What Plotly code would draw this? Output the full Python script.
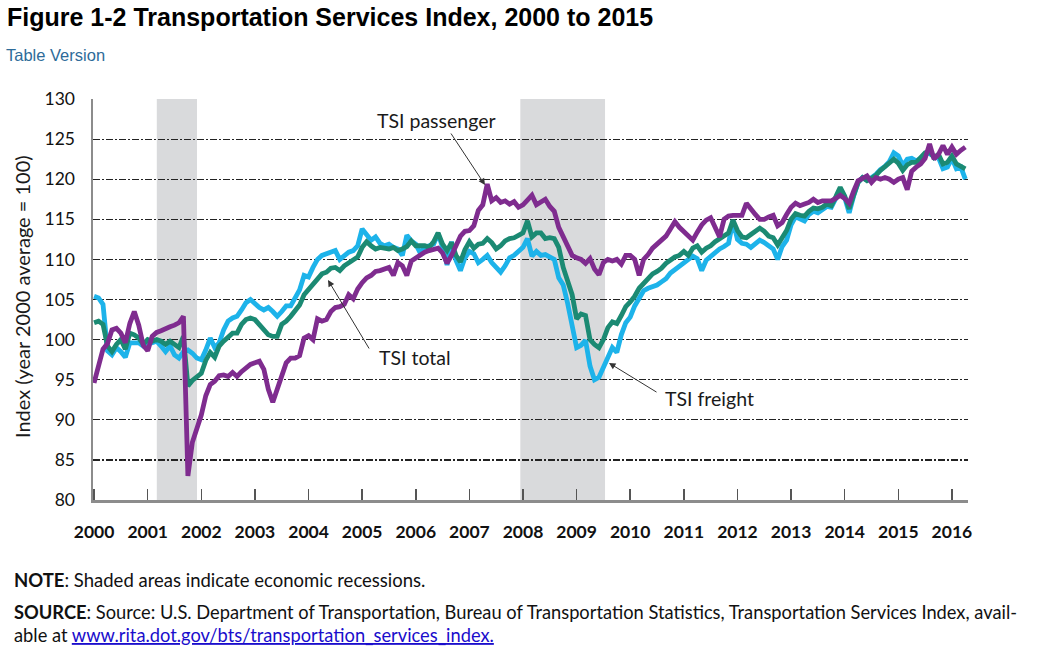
import plotly.graph_objects as go

# ---------------- data (monthly, Jan 2000 - Apr 2016) ----------------
freight = [
    105.4, 105.2, 104.4, 98.6, 98.1, 99.0, 98.5, 97.8, 99.6, 99.6, 99.6, 99.2,      # 2000
    99.8, 99.6, 99.8, 99.2, 98.5, 99.2, 98.1, 97.7, 98.5, 98.7, 98.3, 97.7,         # 2001
    97.5, 98.7, 100.2, 99.0, 99.6, 101.2, 102.3, 102.7, 102.9, 103.7, 104.6, 105.0, # 2002
    104.4, 104.0, 103.7, 104.0, 103.5, 102.9, 103.5, 104.2, 104.2, 105.2, 106.2, 108.0,  # 2003
    107.8, 109.0, 110.0, 110.5, 110.7, 110.9, 111.1, 110.0, 110.5, 110.9, 111.1, 111.7,  # 2004
    113.8, 113.0, 112.4, 112.8, 112.0, 111.7, 111.9, 111.5, 111.3, 110.5, 113.0, 112.3,  # 2005
    111.9, 110.8, 111.5, 111.7, 111.9, 113.2, 111.5, 109.3, 112.2, 109.9, 108.6, 110.2,  # 2006
    111.0, 110.7, 109.6, 110.0, 110.5, 109.6, 109.0, 108.4, 109.2, 110.2, 110.5, 111.0,  # 2007
    111.5, 112.6, 110.4, 111.0, 110.5, 110.6, 110.3, 110.0, 107.7, 106.8, 104.5, 101.5,  # 2008
    99.0, 99.3, 99.9, 96.7, 95.0, 95.3, 96.5, 97.7, 99.0, 98.4, 100.6, 102.1,       # 2009
    102.8, 104.2, 105.3, 106.1, 106.4, 106.6, 106.8, 107.2, 107.6, 108.3, 108.7, 109.2,  # 2010
    109.6, 110.0, 110.4, 110.1, 108.6, 109.9, 110.4, 110.9, 111.3, 111.6, 112.0, 114.8,  # 2011
    112.5, 112.0, 111.9, 111.5, 111.9, 112.4, 112.1, 111.7, 111.3, 110.0, 111.6, 112.4,  # 2012
    114.3, 115.3, 115.0, 114.8, 115.6, 116.0, 115.8, 116.2, 116.6, 116.5, 117.5, 118.7,  # 2013
    117.7, 115.8, 117.9, 119.6, 120.2, 119.9, 120.2, 120.6, 121.2, 121.6, 122.2, 123.3,  # 2014
    122.9, 121.7, 122.5, 122.6, 122.3, 122.6, 123.2, 123.2, 122.8, 122.7, 121.3, 121.5,  # 2015
    122.6, 121.3, 121.5, 120.0,                                                       # 2016
]

total = [
    102.1, 102.3, 101.9, 99.2, 98.5, 99.4, 100.0, 98.8, 100.8, 100.6, 100.2, 99.4,  # 2000
    100.0, 99.8, 100.0, 99.8, 99.4, 99.8, 99.4, 99.0, 100.4, 94.2, 94.9, 95.3,      # 2001
    95.8, 97.4, 98.4, 97.8, 99.2, 99.8, 100.4, 100.8, 100.8, 101.9, 102.5, 102.7,   # 2002
    102.5, 101.9, 101.2, 100.6, 100.4, 100.4, 101.9, 102.3, 102.9, 103.7, 104.3, 105.6,  # 2003
    106.3, 107.0, 107.5, 108.2, 108.4, 108.9, 109.0, 108.6, 109.2, 109.6, 110.0, 110.3,  # 2004
    111.5, 112.2, 111.7, 111.3, 111.5, 111.4, 111.3, 111.5, 111.1, 111.3, 111.6, 112.3,  # 2005
    111.7, 111.7, 111.7, 111.5, 112.2, 113.3, 111.9, 111.1, 112.1, 110.5, 109.7, 111.2,  # 2006
    112.2, 111.4, 111.9, 112.0, 112.6, 112.1, 111.3, 111.7, 112.3, 112.6, 112.7, 113.0,  # 2007
    113.3, 114.8, 112.8, 113.3, 113.3, 112.6, 112.7, 112.6, 111.5, 109.0, 107.4, 105.6,  # 2008
    102.6, 103.2, 103.0, 100.0, 99.4, 99.0, 100.0, 101.5, 102.2, 102.0, 103.0, 104.1,    # 2009
    104.7, 105.4, 106.4, 107.0, 107.6, 108.2, 108.5, 108.9, 109.5, 110.0, 110.3, 110.5,  # 2010
    111.0, 110.5, 111.4, 111.7, 110.9, 111.4, 111.7, 112.2, 112.6, 113.0, 113.3, 114.9,  # 2011
    113.6, 112.8, 112.7, 113.1, 113.5, 113.9, 113.5, 112.9, 112.7, 111.8, 112.7, 113.6,  # 2012
    115.0, 115.7, 115.5, 115.4, 116.0, 116.4, 116.3, 116.5, 116.9, 116.7, 117.8, 119.0,  # 2013
    117.9, 116.3, 118.0, 119.6, 120.2, 119.8, 120.1, 120.5, 121.1, 121.6, 122.1, 122.5,  # 2014
    122.0, 121.1, 121.8, 122.1, 122.1, 122.6, 123.3, 123.5, 122.7, 123.1, 121.9, 122.1,  # 2015
    122.9, 121.9, 121.6, 121.3,                                                       # 2016
]

passenger = [
    94.6, 97.0, 98.8, 99.5, 101.2, 101.4, 100.8, 99.6, 102.0, 103.5, 101.8, 99.3,   # 2000
    98.6, 100.4, 100.9, 101.1, 101.4, 101.6, 101.8, 102.1, 102.9, 83.0, 87.2, 89.0, # 2001
    90.6, 93.0, 94.4, 94.8, 95.5, 95.6, 95.4, 95.9, 95.4, 96.0, 96.5, 96.9,         # 2002
    97.1, 97.3, 96.3, 93.8, 92.2, 93.8, 95.5, 97.1, 97.7, 97.7, 98.0, 100.2,        # 2003
    100.5, 100.0, 102.6, 102.3, 102.5, 103.5, 104.0, 104.1, 104.4, 105.6, 105.1, 106.3,  # 2004
    107.1, 107.7, 108.0, 108.5, 108.6, 108.8, 109.0, 108.0, 109.6, 109.2, 108.0, 109.8,  # 2005
    110.2, 110.6, 110.9, 111.1, 111.3, 111.4, 110.8, 109.5, 110.5, 111.7, 112.9, 113.5,  # 2006
    113.6, 114.2, 116.1, 116.8, 119.4, 117.3, 117.7, 117.1, 117.3, 116.9, 117.2, 116.5,  # 2007
    116.8, 117.4, 118.0, 116.8, 117.1, 117.5, 116.6, 116.0, 114.0, 112.8, 111.5, 110.5,  # 2008
    110.2, 110.0, 109.5, 110.1, 108.8, 108.1, 109.6, 110.0, 109.8, 110.0, 109.4, 110.5,  # 2009
    110.5, 110.0, 108.0, 110.0, 110.6, 111.4, 111.9, 112.4, 112.9, 113.8, 114.7, 114.0,  # 2010
    113.5, 113.1, 112.4, 113.4, 114.3, 114.9, 115.2, 114.0, 112.8, 115.0, 115.4, 115.5,  # 2011
    115.5, 115.5, 117.0, 116.2, 115.6, 115.0, 115.0, 115.3, 115.5, 114.2, 114.6, 115.6,  # 2012
    116.5, 117.0, 116.7, 116.9, 117.1, 117.5, 117.1, 117.3, 117.3, 117.3, 117.6, 118.0,  # 2013
    117.6, 117.0, 118.5, 119.8, 120.1, 120.4, 119.6, 120.2, 120.0, 120.2, 120.0, 119.6,  # 2014
    120.0, 120.2, 118.7, 121.0, 121.5, 121.9, 122.6, 124.4, 122.5, 123.1, 124.2, 123.1,  # 2015
    124.0, 123.1, 123.6, 124.0,                                                       # 2016
]

start_year = 2000
recessions = [(2001.17, 2001.92), (2007.95, 2009.53)]
x_ticks = list(range(2000, 2017))
y_ticks = list(range(80, 131, 5))

x = [start_year + i / 12 for i in range(len(freight))]

# ---------------- layout helpers ----------------
W, H = 1044, 649
L, R, T, B = 93, 968, 99, 500
X0, X1 = 1999.98, 2016.3
Y0, Y1 = 80, 130


def px(xp):   # page pixel -> paper fraction
    return (xp - L) / (R - L)


def py(yp):
    return (B - yp) / (B - T)


def dx(xp):   # page pixel -> data x
    return X0 + (xp - L) / (R - L) * (X1 - X0)


def dy(yp):
    return Y1 - (yp - T) / (B - T) * (Y1 - Y0)


GILL = "Lato, 'Noto Sans', sans-serif"
ARIAL = "'Liberation Sans', Arial, sans-serif"

fig = go.Figure()

colors = {"freight": "#1db3ea", "total": "#1b8a73", "passenger": "#7f2c8f"}
fig.add_trace(go.Scatter(x=x, y=freight, mode="lines", name="TSI freight",
                         line=dict(color=colors["freight"], width=4.8)))
fig.add_trace(go.Scatter(x=x, y=total, mode="lines", name="TSI total",
                         line=dict(color=colors["total"], width=4.8)))
fig.add_trace(go.Scatter(x=x, y=passenger, mode="lines", name="TSI passenger",
                         line=dict(color=colors["passenger"], width=4.8)))

for a, b in recessions:
    fig.add_shape(type="rect", xref="x", yref="y", x0=a, x1=b, y0=Y0, y1=Y1,
                  fillcolor="#d9dadc", line=dict(width=0), layer="below")

annotations = []
labels = [
    ("TSI passenger", (436, 120), (450, 132), (485, 185)),
    ("TSI total", (415, 357), (370, 350), (328, 280)),
    ("TSI freight", (709, 398), (658, 393), (609, 363)),
]
for text, (tx, ty), (ax_, ay_), (hx, hy) in labels:
    annotations.append(dict(x=dx(tx), y=dy(ty), xref="x", yref="y", text=text,
                            showarrow=False, font=dict(family=GILL, size=19.5, color="#1a1a1a")))
    annotations.append(dict(x=dx(hx), y=dy(hy), xref="x", yref="y", text="",
                            ax=dx(ax_), ay=dy(ay_), axref="x", ayref="y",
                            showarrow=True, arrowhead=2, arrowsize=1.3, arrowwidth=1,
                            arrowcolor="#333333"))

annotations.append(dict(x=px(5), y=py(17), xref="paper", yref="paper",
                        text="<b>Figure 1-2 Transportation Services Index, 2000 to 2015</b>",
                        showarrow=False, xanchor="left", yanchor="middle",
                        font=dict(family=ARIAL, size=25, color="#000")))
annotations.append(dict(x=px(4), y=py(55), xref="paper", yref="paper",
                        text="Table Version", showarrow=False, xanchor="left", yanchor="middle",
                        font=dict(family=ARIAL, size=16.5, color="#2e6b99")))
annotations.append(dict(x=px(22), y=py(297), xref="paper", yref="paper",
                        text="Index (year 2000 average = 100)", showarrow=False, textangle=-90,
                        xanchor="center", yanchor="middle",
                        font=dict(family=GILL, size=20, color="#1a1a1a")))
annotations.append(dict(x=px(12), y=py(580), xref="paper", yref="paper",
                        text="<b>NOTE</b>: Shaded areas indicate economic recessions.",
                        showarrow=False, xanchor="left", yanchor="middle",
                        font=dict(family=GILL, size=18.5, color="#111")))
annotations.append(dict(x=px(12), y=py(612), xref="paper", yref="paper",
                        text="<b>SOURCE</b>: Source: U.S. Department of Transportation, Bureau of Transportation "
                             "Statistics, Transportation Services Index, avail-",
                        showarrow=False, xanchor="left", yanchor="middle",
                        font=dict(family=GILL, size=18.3, color="#111")))
annotations.append(dict(x=px(12), y=py(635), xref="paper", yref="paper",
                        text="able at <span style='color:#1a0dcc'><u>www.rita.dot.gov/bts/transportation_services_index.</u></span>",
                        showarrow=False, xanchor="left", yanchor="middle",
                        font=dict(family=GILL, size=18.3, color="#111")))

fig.update_layout(
    width=W, height=H,
    margin=dict(l=L, r=W - R, t=T, b=H - B, pad=0),
    plot_bgcolor="white", paper_bgcolor="white",
    showlegend=False,
    hovermode=False,
    annotations=annotations,
    xaxis=dict(range=[X0, X1], tickvals=x_ticks, ticktext=[str(v) for v in x_ticks],
               showgrid=False, zeroline=False, showline=True, linecolor="#8c8c8c", linewidth=2.5,
               ticks="inside", ticklen=11, tickwidth=1.5, tickcolor="#555",
               ticklabelstandoff=14,
               tickfont=dict(family=GILL, size=17.5, color="#111", weight="bold")),
    yaxis=dict(range=[Y0, Y1], tickvals=y_ticks, ticktext=[str(v) for v in y_ticks],
               showgrid=True, gridcolor="#222", gridwidth=1.2, griddash="7px,2px,2px,2px",
               zeroline=False, showline=True, linecolor="#8c8c8c", linewidth=2.5,
               ticks="", ticklabelstandoff=12,
               tickfont=dict(family=GILL, size=17.5, color="#111")),
)

fig.write_html("out.html",
               config={"displayModeBar": False, "staticPlot": True},
               post_script="document.body.style.margin='0';document.body.style.overflow='hidden';")
